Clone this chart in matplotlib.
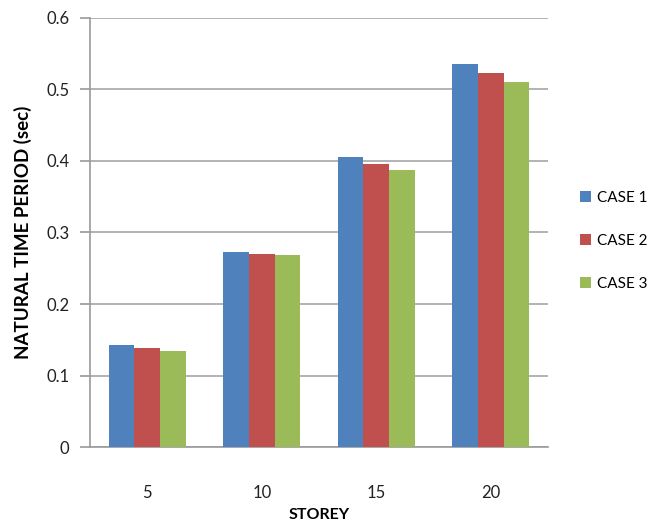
import matplotlib
matplotlib.use("Agg")
import matplotlib.pyplot as plt
import numpy as np

storeys = ["5", "10", "15", "20"]
case1 = [0.143, 0.273, 0.405, 0.535]
case2 = [0.138, 0.270, 0.396, 0.523]
case3 = [0.135, 0.268, 0.388, 0.510]
series_names = ["CASE 1", "CASE 2", "CASE 3"]
colors = ["#4F81BD", "#C0504D", "#9BBB59"]

plt.rcParams["font.family"] = ["Lato", "DejaVu Sans"]

fig = plt.figure(figsize=(6.64, 5.26), dpi=100)
ax = fig.add_axes([0.1355, 0.150, 0.690, 0.816])

x = np.arange(len(storeys))
w = 0.224
for i, (vals, name, c) in enumerate(zip([case1, case2, case3], series_names, colors)):
    ax.bar(x + (i - 1) * w, vals, width=w, color=c, label=name, zorder=3)

ax.set_xlim(-0.5, len(storeys) - 0.5)
ax.set_ylim(0, 0.6)
ax.set_yticks(np.arange(0, 0.61, 0.1))
ax.set_yticklabels(["0", "0.1", "0.2", "0.3", "0.4", "0.5", "0.6"])
ax.set_xticks(x)
ax.set_xticklabels(storeys)

ax.yaxis.grid(True, color="#a6a6a6", linewidth=1.2, zorder=0)
ax.set_axisbelow(True)
for s in ["top", "right"]:
    ax.spines[s].set_visible(False)
for s in ["left", "bottom"]:
    ax.spines[s].set_color("#9a9a9a")
    ax.spines[s].set_linewidth(1.2)

ax.tick_params(axis="y", length=7, width=1.2, color="#9a9a9a", labelsize=12,
               labelcolor="#222222", pad=8)
ax.tick_params(axis="x", length=0, labelsize=12, labelcolor="#222222", pad=27)

ax.set_ylabel("NATURAL TIME PERIOD (sec)", fontsize=13.5, fontweight="bold",
              labelpad=10)
ax.set_xlabel("STOREY", fontsize=11.5, fontweight="bold", labelpad=5)

ax.legend(loc="center left", bbox_to_anchor=(1.04, 0.48), frameon=False,
          fontsize=11, handlelength=0.7, handleheight=0.7, handletextpad=0.4,
          labelspacing=1.9)

fig.savefig("out.png", dpi=100)
